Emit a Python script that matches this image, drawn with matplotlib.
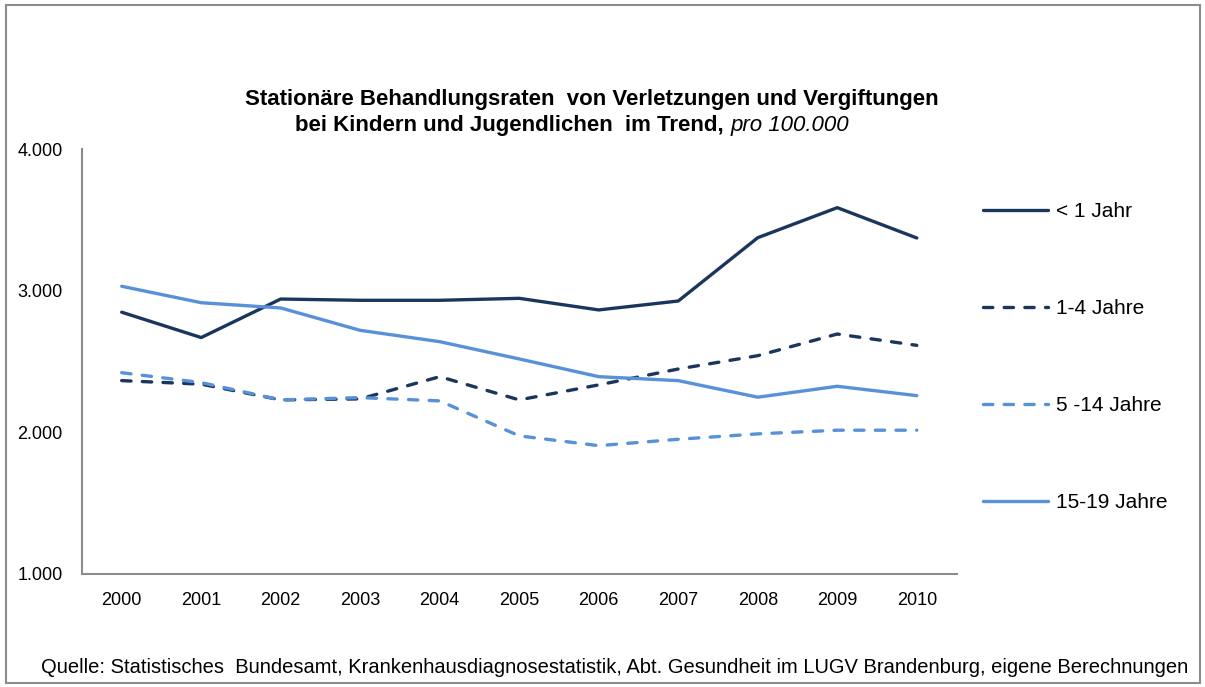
import matplotlib.pyplot as plt
from matplotlib.patches import Rectangle

plt.rcParams['font.family'] = ['Liberation Sans', 'DejaVu Sans']

years = ['2000', '2001', '2002', '2003', '2004', '2005', '2006', '2007', '2008', '2009', '2010']
unter_1 = [2848, 2669, 2941, 2932, 2932, 2946, 2864, 2927, 3374, 3586, 3372]
j_1_4 = [2365, 2340, 2229, 2236, 2393, 2229, 2335, 2447, 2541, 2694, 2614]
j_5_14 = [2421, 2351, 2229, 2245, 2222, 1975, 1906, 1951, 1989, 2015, 2015]
j_15_19 = [3031, 2915, 2878, 2720, 2640, 2518, 2393, 2365, 2248, 2325, 2259]
labels = ['< 1 Jahr', '1-4 Jahre', '5 -14 Jahre', '15-19 Jahre']

dark = '#1b365d'
light = '#5891d8'
dash = (0, (2.8, 3.4))

fig = plt.figure(figsize=(12.05, 6.87), dpi=100)
ax = fig.add_axes([0.068, 0.1645, 0.7258, 0.6186])

x = range(len(years))
kw = dict(lw=2.4, dash_capstyle='round', solid_capstyle='round')
ax.plot(x, unter_1, color=dark, label=labels[0], **kw)
ax.plot(x, j_1_4, color=dark, ls=dash, label=labels[1], **kw)
ax.plot(x, j_5_14, color=light, ls=dash, label=labels[2], **kw)
ax.plot(x, j_15_19, color=light, label=labels[3], **kw)

ax.set_xlim(-0.5, len(years) - 0.5)
ax.set_ylim(1000, 4000)
ax.set_xticks(list(x))
ax.set_xticklabels(years)
ax.set_yticks([1000, 2000, 3000, 4000])
ax.set_yticklabels(['1.000', '2.000', '3.000', '4.000'])
ax.tick_params(length=0, labelsize=13)
ax.tick_params(axis='y', pad=14)
ax.tick_params(axis='x', pad=13)
for s in ['top', 'right']:
    ax.spines[s].set_visible(False)
for s in ['left', 'bottom']:
    ax.spines[s].set_color('#8c8c8c')
    ax.spines[s].set_linewidth(1.5)

ax.legend(loc='upper left', bbox_to_anchor=(0.8158, 0.706), bbox_transform=fig.transFigure,
          frameon=False, fontsize=15, labelspacing=3.75, handlelength=3.1,
          handletextpad=0.4, borderpad=0, borderaxespad=0)

# title, second line mixes bold and italic
fig.text(0.491, 0.855, 'Stationäre Behandlungsraten  von Verletzungen und Vergiftungen',
         ha='center', va='center', fontsize=16, fontweight='bold')
t2 = fig.text(0.2, 0.817, 'bei Kindern und Jugendlichen  im Trend, ',
              ha='left', va='center', fontsize=16, fontweight='bold')
t3 = fig.text(0.2, 0.817, 'pro 100.000', ha='left', va='center', fontsize=16, style='italic')
r = fig.canvas.get_renderer()
w2 = t2.get_window_extent(r).width
w3 = t3.get_window_extent(r).width
x0 = 572 - (w2 + w3) / 2
t2.set_x(x0 / 1205)
t3.set_x((x0 + w2) / 1205)

fig.text(0.51, 0.029, 'Quelle: Statistisches  Bundesamt, Krankenhausdiagnosestatistik, Abt. Gesundheit im LUGV Brandenburg, eigene Berechnungen',
         ha='center', va='center', fontsize=14.5)

fig.add_artist(Rectangle((0.005, 0.006), 0.991, 0.987, transform=fig.transFigure,
                         fill=False, edgecolor='#8c8c8c', lw=1.5))

fig.savefig('out.png', dpi=100)
